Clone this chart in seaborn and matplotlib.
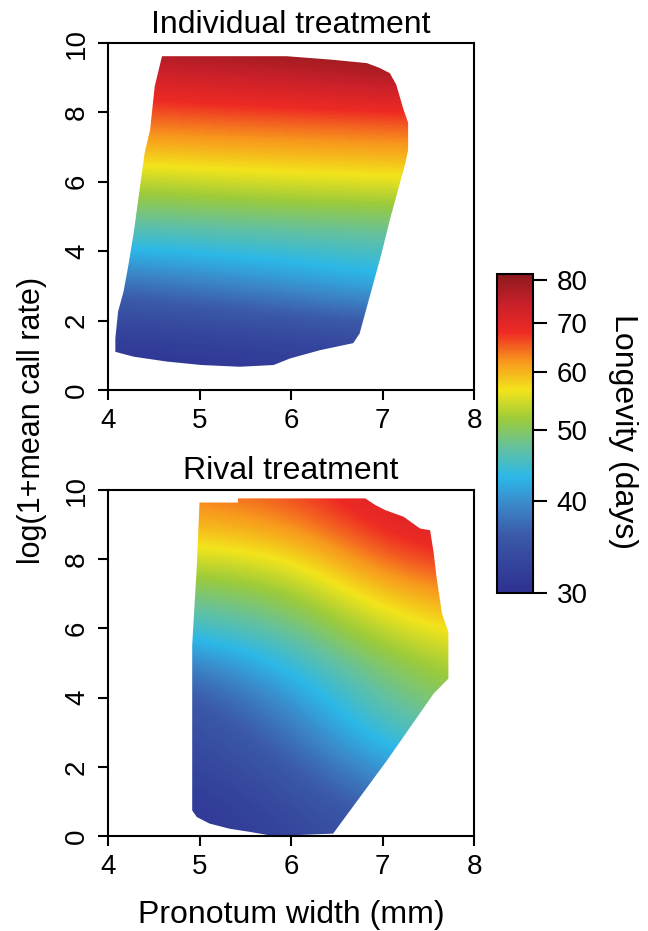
import numpy as np
import matplotlib
matplotlib.use("Agg")
import matplotlib.pyplot as plt
from matplotlib.colors import LogNorm
from matplotlib.patches import Polygon
from matplotlib.ticker import FixedLocator, FixedFormatter, NullLocator
import seaborn as sns

# grid nodes of the fitted surface
width_nodes = [4, 5, 6, 7, 8]          # pronotum width (mm)
call_nodes = list(range(11))           # log(1+mean call rate)

# longevity (days), one list per width, call rate 0..10
indiv_w4 = [30.0, 31.0, 33.5, 37.0, 42.5, 48.0, 53.0, 60.0, 65.0, 71.5, 79.0]
indiv_w5 = [30.5, 31.5, 34.0, 38.5, 43.5, 48.5, 54.0, 60.5, 66.0, 73.0, 80.0]
indiv_w6 = [31.0, 32.0, 35.0, 40.0, 44.5, 49.0, 55.0, 61.0, 66.5, 74.5, 81.0]
indiv_w7 = [31.5, 32.5, 36.0, 42.0, 45.5, 49.5, 55.5, 61.5, 67.0, 77.0, 81.5]
indiv_w8 = [32.0, 33.0, 37.0, 43.0, 46.0, 50.0, 56.0, 62.0, 67.5, 77.5, 81.5]

rival_w4 = [30.5, 31.0, 32.0, 33.0, 34.0, 37.0, 43.0, 48.0, 53.5, 59.0, 63.0]
rival_w5 = [31.0, 31.5, 33.0, 34.0, 35.5, 39.0, 45.0, 49.0, 54.5, 60.0, 64.0]
rival_w6 = [33.0, 34.0, 35.5, 37.5, 40.5, 44.0, 47.5, 51.0, 56.0, 62.0, 66.0]
rival_w7 = [35.0, 37.5, 41.0, 45.0, 47.5, 50.0, 54.0, 59.0, 65.0, 69.0, 72.0]
rival_w8 = [38.0, 40.0, 44.0, 48.0, 51.0, 54.0, 58.0, 63.0, 68.0, 72.0, 75.0]

# outline of the observed data range in each treatment
hull1_x = [4.59, 5.95, 6.44, 6.83, 6.97, 7.08, 7.15, 7.23, 7.28, 7.28, 7.25, 7.17,
           7.08, 6.99, 6.86, 6.83, 6.75, 6.68, 6.50, 6.32, 5.99, 5.81, 5.44, 5.02,
           4.64, 4.28, 4.08, 4.08, 4.11, 4.17, 4.22, 4.28, 4.33, 4.40, 4.46, 4.51]
hull1_y = [9.62, 9.62, 9.52, 9.42, 9.28, 9.13, 8.80, 8.08, 7.70, 6.92, 6.54, 5.77,
           4.90, 3.94, 2.69, 2.40, 1.63, 1.35, 1.25, 1.15, 0.91, 0.72, 0.67, 0.72,
           0.82, 0.96, 1.10, 1.49, 2.26, 2.84, 3.56, 4.52, 5.48, 6.83, 7.50, 8.75]
hull2_x = [5.00, 5.42, 5.42, 6.81, 6.92, 7.03, 7.23, 7.41, 7.52, 7.56, 7.59, 7.65,
           7.72, 7.72, 7.56, 7.05, 6.46, 5.81, 5.55, 5.33, 5.11, 4.97, 4.92, 4.92, 4.97]
hull2_y = [9.64, 9.64, 9.76, 9.76, 9.57, 9.42, 9.23, 8.89, 8.84, 8.17, 7.49, 6.43,
           5.90, 4.55, 4.12, 2.19, 0.07, 0.00, 0.12, 0.21, 0.36, 0.55, 0.74, 5.52, 7.78]

cbar_ticks = [30, 40, 50, 60, 70, 80]
cbar_min, cbar_max = 30, 81.5
axis_ticks_x = [4, 5, 6, 7, 8]
axis_ticks_y = [0, 2, 4, 6, 8, 10]

# rainbow scale as seen on the colour bar (bottom to top)
scale_colors = ["#2e3192", "#34449c", "#3b5aa9", "#3c86c8", "#2cb8e8", "#63c1a0",
                "#9ccb3b", "#f3e41b", "#f8981d", "#ee2a24", "#c8202a", "#8c1a1d"]

sns.set_theme(style="ticks")
plt.rcParams["font.family"] = ["Liberation Sans", "DejaVu Sans"]
plt.rcParams.update({
    "text.color": "black",
    "axes.labelcolor": "black",
    "axes.linewidth": 1.5,
    "axes.edgecolor": "black",
    "xtick.major.width": 1.5,
    "ytick.major.width": 1.5,
    "xtick.major.size": 7,
    "ytick.major.size": 7,
    "xtick.color": "black",
    "ytick.color": "black",
    "xtick.labelcolor": "black",
    "ytick.labelcolor": "black",
    "xtick.labelsize": 20,
    "ytick.labelsize": 20,
    "xtick.major.pad": 6,
    "ytick.major.pad": 6,
})

cmap = sns.blend_palette(scale_colors, n_colors=256, as_cmap=True)
norm = LogNorm(vmin=cbar_min, vmax=cbar_max)

fig = plt.figure(figsize=(6.48, 9.31), dpi=100)
ax1 = fig.add_axes([0.1667, 0.5811, 0.5648, 0.3727])
ax2 = fig.add_axes([0.1667, 0.1020, 0.5648, 0.3716])
cax = fig.add_axes([0.767, 0.363, 0.0556, 0.3426])

panels = [
    (ax1, [indiv_w4, indiv_w5, indiv_w6, indiv_w7, indiv_w8], hull1_x, hull1_y, "Individual treatment", 7),
    (ax2, [rival_w4, rival_w5, rival_w6, rival_w7, rival_w8], hull2_x, hull2_y, "Rival treatment", 8),
]

im = None
for ax, cols, hx, hy, title, tpad in panels:
    z = np.column_stack(cols)
    dx = width_nodes[1] - width_nodes[0]
    dy = call_nodes[1] - call_nodes[0]
    extent = [width_nodes[0] - dx / 2, width_nodes[-1] + dx / 2,
              call_nodes[0] - dy / 2, call_nodes[-1] + dy / 2]
    im = ax.imshow(z, origin="lower", extent=extent, aspect="auto", cmap=cmap,
                   norm=norm, interpolation="bicubic", interpolation_stage="data")
    hull = Polygon(np.column_stack([hx, hy]), closed=True, facecolor="none",
                   edgecolor="none", transform=ax.transData)
    ax.add_patch(hull)
    im.set_clip_path(hull)

    ax.set_xlim(4, 8)
    ax.set_ylim(0, 10)
    ax.set_xticks(axis_ticks_x)
    ax.set_yticks(axis_ticks_y)
    ax.set_xticklabels([str(t) for t in axis_ticks_x])
    ax.set_yticklabels([str(t) for t in axis_ticks_y], rotation=90, va="center")
    ax.set_title(title, fontsize=23, pad=tpad, color="black")
    for s in ax.spines.values():
        s.set_visible(True)

ax2.set_xlabel("Pronotum width (mm)", fontsize=23, labelpad=14)
fig.text(0.049, 0.548, "log(1+mean call rate)", rotation=90, fontsize=22,
         ha="center", va="center")

cbar = fig.colorbar(im, cax=cax)
cbar.outline.set_linewidth(1.5)
cbar.outline.set_edgecolor("black")
cax.yaxis.set_major_locator(FixedLocator(cbar_ticks))
cax.yaxis.set_major_formatter(FixedFormatter([str(t) for t in cbar_ticks]))
cax.yaxis.set_minor_locator(NullLocator())
cax.tick_params(axis="y", length=10, width=1.5, pad=7, labelsize=20,
                colors="black")
fig.text(0.961, 0.5365, "Longevity (days)", rotation=270, fontsize=23,
         ha="center", va="center")

fig.savefig("out.png", dpi=100, facecolor="white")
